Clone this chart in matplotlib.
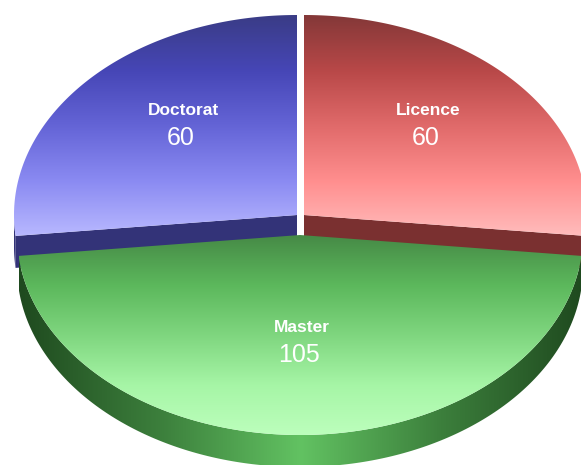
import numpy as np
import matplotlib
matplotlib.use("Agg")
import matplotlib.pyplot as plt
from matplotlib.patches import Polygon
from matplotlib.colors import LinearSegmentedColormap

# data (pie order: clockwise from 12 o'clock)
categories = ['Licence', 'Master', 'Doctorat']
values = [60, 105, 60]

# colours per slice: top gradient (top -> bottom), side colour(s)
top_colors = {
    'Licence': ['#843838', '#b84848', '#e06a6a', '#ff8e8e', '#ffbcbc'],
    'Master': ['#468a46', '#5cb85c', '#7fd67f', '#a6f5a6', '#bcffbc'],
    'Doctorat': ['#3a3c86', '#4646b6', '#6464d6', '#8a8af2', '#b8b8ff'],
}
side_colors = {
    'Licence': ['#7a3030', '#7a3030'],
    'Master': ['#1f4a1f', '#3c7f3c', '#62c262', '#3c7f3c', '#1f4a1f'],
    'Doctorat': ['#333378', '#333378'],
}
explode = {'Licence': (4, -20), 'Master': (0, 0), 'Doctorat': (-3, -20)}
# small perspective correction of the label position (x)
label_dx = {'Licence': 9, 'Master': 2, 'Doctorat': 1}

# geometry in pixel-like units (y grows downward)
W, H = 581, 465
cx, cy = 300, 235
rx, ry = 283, 200
depth = 32

fig = plt.figure(figsize=(W / 100, H / 100), dpi=100)
ax = fig.add_axes([0, 0, 1, 1])
ax.set_xlim(0, W)
ax.set_ylim(H, 0)
ax.axis('off')


def rim(x0, y0, ang, dy=0):
    t = np.radians(ang)
    return np.column_stack([x0 + rx * np.cos(t), y0 - ry * np.sin(t) + dy])


def fill_gradient(pts, colors, vertical=True, z=1):
    poly = Polygon(pts, closed=True, facecolor='none', edgecolor='none', zorder=z)
    ax.add_patch(poly)
    cmap = LinearSegmentedColormap.from_list('g', colors)
    x0, y0 = pts.min(axis=0)
    x1, y1 = pts.max(axis=0)
    grad = np.linspace(0, 1, 256)
    img = grad[:, None] if vertical else grad[None, :]
    im = ax.imshow(img, cmap=cmap, extent=(x0, x1, y1, y0), aspect='auto',
                   interpolation='bilinear', zorder=z)
    im.set_clip_path(poly)


# angles from values, mapped into [0, 360)
total = sum(values)
angles = {}
a = 90.0
for cat, v in zip(categories, values):
    span = 360.0 * v / total
    lo = (a - span) % 360
    angles[cat] = (lo, lo + span)
    a -= span

layers = ['Doctorat', 'Licence', 'Master']
for i, cat in enumerate(layers):
    a1, a2 = angles[cat]
    ox, oy = explode[cat]
    x0, y0 = cx + ox, cy + oy
    z = 2 + 3 * i
    # side walls
    if cat == 'Master':
        th = np.linspace(a1, a2, 200)
        top = rim(x0, y0, th)
        bot = rim(x0, y0, th[::-1], depth)
        fill_gradient(np.vstack([top, bot]), side_colors[cat], vertical=False, z=z)
    else:
        # the radial cut facing the viewer and the short outer strip next to it
        if cat == 'Licence':
            e, lim = a1, 360
        else:
            e, lim = a2, 180
        pr = rim(x0, y0, [e])[0]
        face = np.array([[x0, y0], pr, pr + [0, depth], [x0, y0 + depth]])
        ax.add_patch(Polygon(face, closed=True, facecolor=side_colors[cat][0],
                             edgecolor='none', zorder=z))
        th = np.linspace(e, lim, 20)
        strip = np.vstack([rim(x0, y0, th), rim(x0, y0, th[::-1], depth)])
        ax.add_patch(Polygon(strip, closed=True, facecolor=side_colors[cat][0],
                             edgecolor='none', zorder=z))
    # top face
    th = np.linspace(a1, a2, 200)
    pts = np.vstack([[x0, y0], rim(x0, y0, th)])
    fill_gradient(pts, top_colors[cat], vertical=True, z=z + 1)
    # labels
    mid = np.radians((a1 + a2) / 2)
    lx = x0 + ox + label_dx[cat] + 0.53 * rx * np.cos(mid)
    ly = y0 + oy - 0.53 * ry * np.sin(mid)
    ax.text(lx, ly - 14, cat, color='white', fontsize=12.5, fontweight='bold',
            ha='center', va='center', family='Liberation Sans', zorder=20)
    ax.text(lx - 3, ly + 14, str(values[categories.index(cat)]), color='white',
            fontsize=18, ha='center', va='center', family='Liberation Sans', zorder=20)

ax.set_xlim(0, W)
ax.set_ylim(H, 0)
fig.savefig('out.png', dpi=100, facecolor='white')
